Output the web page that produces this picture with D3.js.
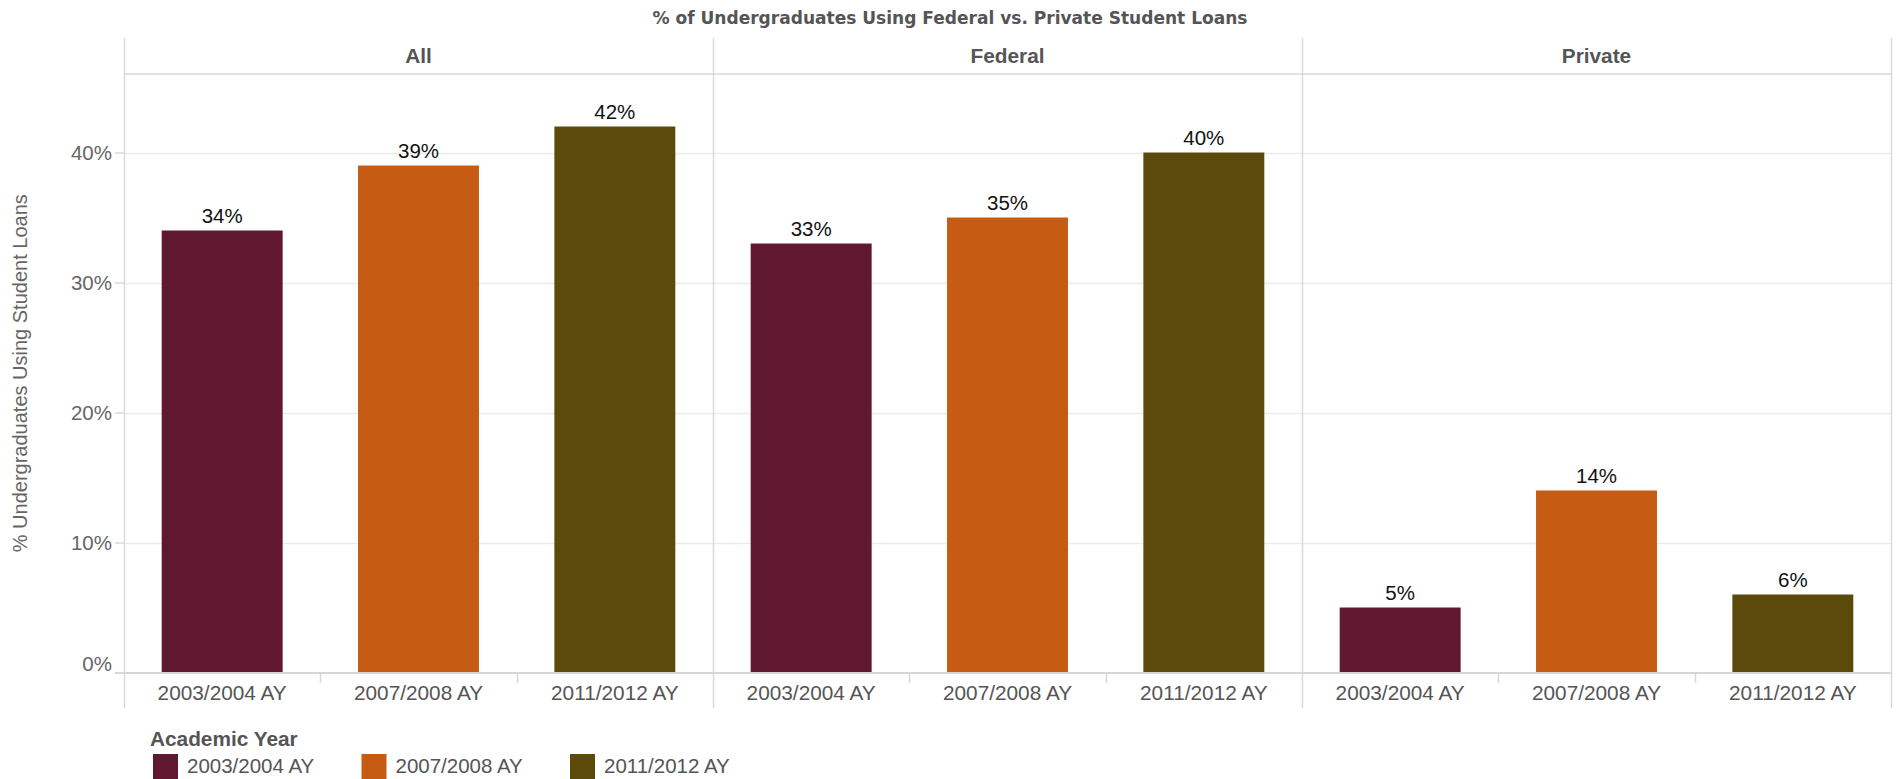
<!DOCTYPE html>
<html>
<head>
<meta charset="utf-8">
<script src="https://cdn.jsdelivr.net/npm/d3@7/dist/d3.min.js"></script>
<style>
  html, body { margin: 0; padding: 0; background: #fff; }
  svg { display: block; }
</style>
</head>
<body>
<svg id="chart" width="1899" height="779"></svg>
<script>
// Loan types shown as side-by-side panes
const loanTypes = ["All", "Federal", "Private"];
// Academic years inside each pane
const academicYears = ["2003/2004 AY", "2007/2008 AY", "2011/2012 AY"];
// Share of undergraduates using loans, per loan type, ordered by academic year
const allLoans = [0.34, 0.39, 0.42];
const federalLoans = [0.33, 0.35, 0.40];
const privateLoans = [0.05, 0.14, 0.06];
// Y axis ticks
const yTickValues = [0, 0.1, 0.2, 0.3, 0.4];
// Year colours
const yearColors = ["#5f182f", "#c65b14", "#5c4a0a"];

const seriesByType = { "All": allLoans, "Federal": federalLoans, "Private": privateLoans };

const svg = d3.select("#chart");
const left = 124, right = 1891;
const paneTop = 38, headerBottom = 74, baseY = 672.5, frameBottom = 708;

const pct = d3.format(".0%");
const axisGray = "#d9d9d9";
const textGray = "#555555";

const paneX = d3.scaleBand().domain(loanTypes).range([left, right]);
const barX = d3.scaleBand().domain(academicYears)
  .range([0, paneX.bandwidth()])
  .paddingInner(0.384).paddingOuter(0.192);
const y = d3.scaleLinear().domain([0, 0.4604]).range([baseY, headerBottom]);
const color = d3.scaleOrdinal().domain(academicYears).range(yearColors);

// Chart title
svg.append("text")
  .attr("x", 950).attr("y", 24)
  .attr("text-anchor", "middle")
  .attr("textLength", 595).attr("lengthAdjust", "spacingAndGlyphs")
  .style("font-family", "'DejaVu Sans Condensed', 'DejaVu Sans', sans-serif")
  .style("font-weight", "bold").style("font-size", "18px")
  .style("fill", textGray)
  .text("% of Undergraduates Using Federal vs. Private Student Loans");

// Horizontal gridlines (skip the zero line, drawn as the axis baseline)
svg.append("g").selectAll("line")
  .data(yTickValues.filter(d => d > 0))
  .join("line")
  .attr("x1", left).attr("x2", right)
  .attr("y1", d => Math.round(y(d)) + 0.5).attr("y2", d => Math.round(y(d)) + 0.5)
  .attr("stroke", "#ebebeb").attr("stroke-width", 1.5);

// Header separator
svg.append("line")
  .attr("x1", left).attr("x2", right)
  .attr("y1", headerBottom).attr("y2", headerBottom)
  .attr("stroke", axisGray).attr("stroke-width", 1.5);

// Pane headers
svg.append("g").selectAll("text")
  .data(loanTypes)
  .join("text")
  .attr("x", d => paneX(d) + paneX.bandwidth() / 2)
  .attr("y", 63)
  .attr("text-anchor", "middle")
  .style("font-family", "'Liberation Sans', Arial, sans-serif")
  .style("font-weight", "bold").style("font-size", "20.8px")
  .style("fill", textGray)
  .text(d => d);

// Bars and value labels for each pane
loanTypes.forEach(type => {
  const g = svg.append("g").attr("transform", `translate(${paneX(type)},0)`);
  const rows = academicYears.map((yr, i) => ({ year: yr, value: seriesByType[type][i] }));

  g.selectAll("rect")
    .data(rows)
    .join("rect")
    .attr("x", d => barX(d.year))
    .attr("width", barX.bandwidth())
    .attr("y", d => y(d.value))
    .attr("height", d => baseY - y(d.value))
    .attr("fill", d => color(d.year));

  g.selectAll("text.value")
    .data(rows)
    .join("text")
    .attr("class", "value")
    .attr("x", d => barX(d.year) + barX.bandwidth() / 2)
    .attr("y", d => y(d.value) - 8)
    .attr("text-anchor", "middle")
    .style("font-family", "'Liberation Sans', Arial, sans-serif")
    .style("font-size", "20.5px")
    .style("fill", "#111")
    .text(d => pct(d.value));

  // Category labels under the pane
  const xAxis = d3.axisBottom(barX).tickSize(0).tickPadding(0);
  const ax = g.append("g").attr("transform", `translate(0,${baseY})`).call(xAxis);
  ax.select(".domain").remove();
  ax.selectAll("text")
    .attr("y", 27.5).attr("dy", null)
    .style("font-family", "'Liberation Sans', Arial, sans-serif")
    .style("font-size", "20.8px")
    .style("fill", textGray);

  // Short ticks between categories
  g.selectAll("line.sep")
    .data(academicYears.slice(1))
    .join("line")
    .attr("class", "sep")
    .attr("x1", d => Math.round(barX(d) - barX.step() * barX.paddingInner() / 2) + 0.5)
    .attr("x2", d => Math.round(barX(d) - barX.step() * barX.paddingInner() / 2) + 0.5)
    .attr("y1", baseY + 1).attr("y2", 683)
    .attr("stroke", axisGray).attr("stroke-width", 1.5);
});

// Pane frame verticals
const frameXs = loanTypes.map(d => paneX(d)).concat([right]);
svg.append("g").selectAll("line")
  .data(frameXs)
  .join("line")
  .attr("x1", d => Math.round(d) + 0.5).attr("x2", d => Math.round(d) + 0.5)
  .attr("y1", paneTop).attr("y2", frameBottom)
  .attr("stroke", axisGray).attr("stroke-width", 1.5);

// Zero baseline
svg.append("line")
  .attr("x1", 115).attr("x2", right)
  .attr("y1", baseY + 0.5).attr("y2", baseY + 0.5)
  .attr("stroke", "#d6d6d6").attr("stroke-width", 2);

// Y axis
const yAxis = d3.axisLeft(y).tickValues(yTickValues).tickFormat(pct).tickSize(9).tickPadding(3);
const yg = svg.append("g").attr("transform", `translate(${left},0)`).call(yAxis);
yg.select(".domain").remove();
yg.selectAll(".tick line").attr("stroke", axisGray).attr("stroke-width", 1.5);
yg.selectAll(".tick text")
  .style("font-family", "'Liberation Sans', Arial, sans-serif")
  .style("font-size", "20.5px")
  .style("fill", "#666")
  .attr("dy", d => d === 0 ? "-0.1em" : "0.35em");

// Y axis title
svg.append("text")
  .attr("transform", `translate(27,${(headerBottom + baseY) / 2}) rotate(-90)`)
  .attr("text-anchor", "middle")
  .style("font-family", "'Liberation Sans', Arial, sans-serif")
  .style("font-size", "20px")
  .style("fill", "#666")
  .text("% Undergraduates Using Student Loans");

// Legend
const legend = svg.append("g");
legend.append("text")
  .attr("x", 150).attr("y", 746)
  .style("font-family", "'Liberation Sans', Arial, sans-serif")
  .style("font-weight", "bold").style("font-size", "20.8px")
  .style("fill", textGray)
  .text("Academic Year");

const items = legend.selectAll("g.item")
  .data(academicYears)
  .join("g")
  .attr("class", "item")
  .attr("transform", (d, i) => `translate(${153 + i * 208.5},0)`);
items.append("rect")
  .attr("x", 0).attr("y", 754).attr("width", 25).attr("height", 30)
  .attr("fill", d => color(d));
items.append("text")
  .attr("x", 34).attr("y", 773)
  .style("font-family", "'Liberation Sans', Arial, sans-serif")
  .style("font-size", "20.5px")
  .style("fill", textGray)
  .text(d => d);
</script>
</body>
</html>
